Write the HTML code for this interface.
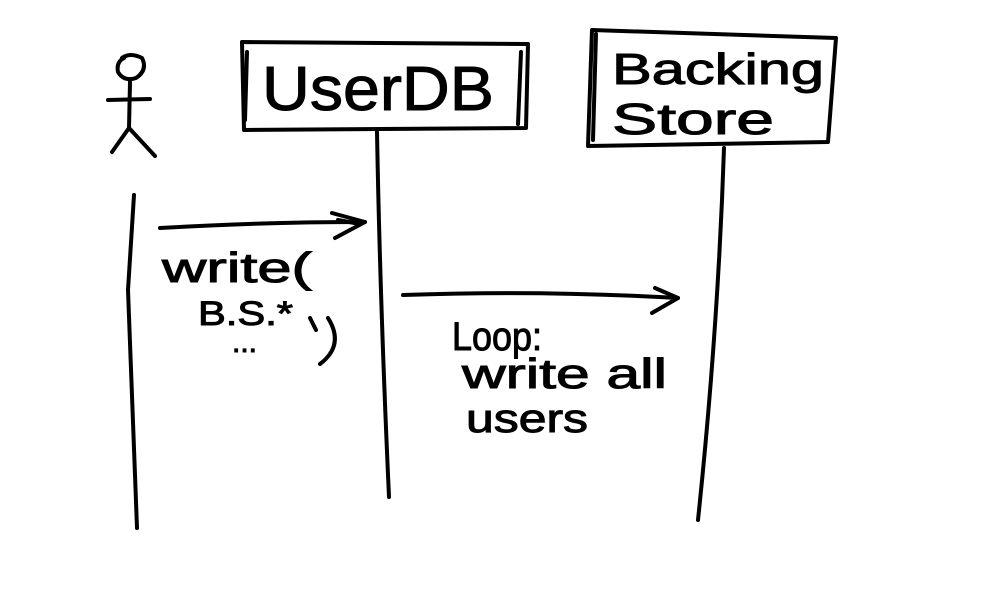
<!DOCTYPE html>
<html><head><meta charset="utf-8"><style>html,body{margin:0;padding:0;background:#fff}svg{display:block}</style></head>
<body>
<svg width="1000" height="600" viewBox="0 0 1000 600" xmlns="http://www.w3.org/2000/svg">
<rect width="1000" height="600" fill="#fff"/>
<g fill="none" stroke="#000" stroke-width="4" stroke-linecap="round" stroke-linejoin="round">
<path d="M122 58 Q130 52 142 58 Q148 70 136 78 Q124 82 118 72 Q116 62 124 58"/>
<path d="M130 82 L129 128"/>
<path d="M108 100 L150 99"/>
<path d="M129 128 L112 152 M129 128 L155 156"/>
<path d="M134 195 Q130 260 128 290 Q132 400 137 528"/>
<path d="M242 42 L528 44 L526 128 L244 130 Z"/>
<path d="M247 52 L245 120 M521 52 L518 124"/>
<path d="M377 132 Q380 300 389 497"/>
<path d="M592 30 L836 38 L828 142 L588 146 Z"/>
<path d="M596 34 L593 140"/>
<path d="M724 148 Q718 330 698 520"/>
<path d="M160 228 Q260 222 365 222"/>
<path d="M332 213 L365 222 L335 238 M338 220 L360 224"/>
<path d="M403 295 Q540 290 678 298"/>
<path d="M655 288 L678 298 L652 313"/>
<path d="M328 318 Q345 345 320 364"/>
<path d="M310 318 L316 330"/>
</g>
<g font-family="'Liberation Sans', sans-serif" fill="#000" stroke="#000" stroke-width="1">
<text x="262" y="110" font-size="62" textLength="232" lengthAdjust="spacingAndGlyphs">UserDB</text>
<text x="612" y="84" font-size="44" textLength="212" lengthAdjust="spacingAndGlyphs">Backing</text>
<text x="612" y="134" font-size="44" textLength="162" lengthAdjust="spacingAndGlyphs">Store</text>
<text x="162" y="282" font-size="42" textLength="150" lengthAdjust="spacingAndGlyphs">write(</text>
<text x="198" y="325" font-size="34" textLength="95" lengthAdjust="spacingAndGlyphs">B.S.*</text>
<text x="232" y="352" font-size="30">...</text>
<text x="452" y="350" font-size="40" textLength="90" lengthAdjust="spacingAndGlyphs">Loop:</text>
<text x="462" y="388" font-size="42" textLength="205" lengthAdjust="spacingAndGlyphs">write all</text>
<text x="466" y="432" font-size="40" textLength="122" lengthAdjust="spacingAndGlyphs">users</text>
</g>
</svg>
</body></html>
